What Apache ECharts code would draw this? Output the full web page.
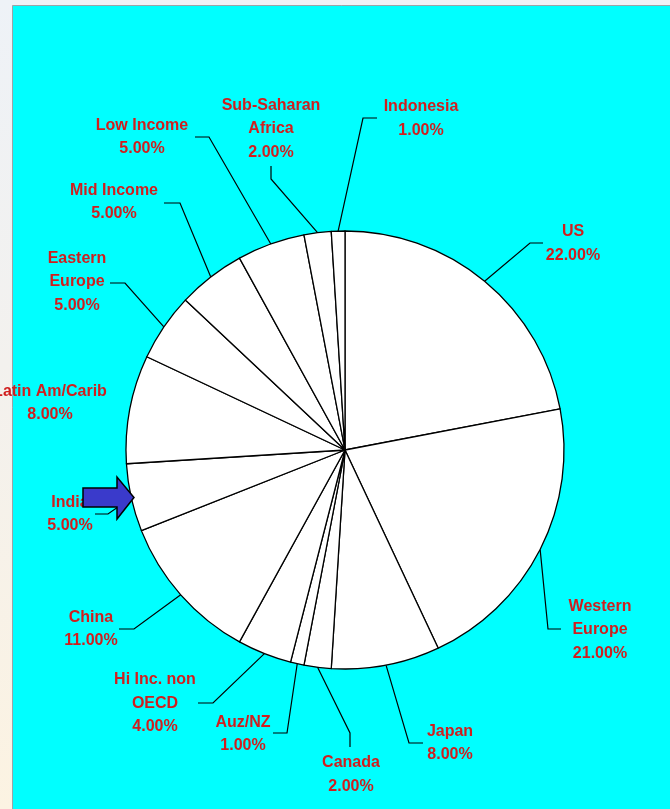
<!DOCTYPE html>
<html>
<head>
<meta charset="utf-8">
<script src="https://cdn.jsdelivr.net/npm/echarts@6/dist/echarts.min.js"></script>
<style>
  html, body { margin: 0; padding: 0; }
  body {
    width: 670px; height: 809px; overflow: hidden;
    background: linear-gradient(180deg, #eef2f7 0%, #f3f1ee 45%, #fcf3e2 100%);
  }
  #chart { position: absolute; left: 0; top: 0; width: 670px; height: 809px; }
</style>
</head>
<body>
<div id="chart"></div>
<script>
// Slice names, clockwise from 12 o'clock
const regions = [
  'US', 'Western\nEurope', 'Japan', 'Canada', 'Auz/NZ', 'Hi Inc. non\nOECD',
  'China', 'India', 'Latin Am/Carib', 'Eastern\nEurope', 'Mid Income',
  'Low Income', 'Sub-Saharan\nAfrica', 'Indonesia'
];
// Share of each region (percent)
const shares = [22, 21, 8, 2, 1, 4, 11, 5, 8, 5, 5, 5, 2, 1];

// Label placement: [centre x, centre y, elbow x, elbow y, end x, end y]; null = no leader line
const labelPlacement = [
  [573, 243.5, 530, 243, 543, 243],
  [600, 630, 548, 629, 561, 629],
  [450, 743, 409, 743, 423, 743],
  [351, 774.5, 350, 733, 350, 747],
  [243, 734, 287, 733, 273, 733],
  [155, 703.5, 213, 703, 198, 703],
  [91, 629, 134, 629, 119, 629],
  [70, 514, 108, 514, 95, 514],
  [50, 403, null],
  [77, 282, 125, 283, 110, 283],
  [114, 202, 180, 203, 164, 203],
  [142, 137, 209, 137, 195, 137],
  [271, 129, 271, 179, 271, 166],
  [421, 118.5, 363, 118, 377, 118]
];

const chart = echarts.init(document.getElementById('chart'), null, { renderer: 'canvas' });

const pieData = regions.map((name, i) => ({
  name: name,
  value: shares[i],
  labelLine: { show: labelPlacement[i][2] !== null }
}));

chart.setOption({
  backgroundColor: 'transparent',
  animation: false,
  graphic: [
    {
      type: 'rect', z: -100, silent: true,
      shape: { x: 12.5, y: 5.5, width: 670, height: 820 },
      style: { fill: '#00ffff', stroke: '#9aa4a8', lineWidth: 1 }
    },
    {
      // pointer arrow beside the India slice
      type: 'polygon', z: 100, silent: true,
      shape: { points: [[83, 488], [117, 488], [117, 477], [134, 497.5], [117, 519], [117, 507], [83, 507]] },
      style: { fill: '#3a3acb', stroke: '#000000', lineWidth: 1.5 }
    }
  ],
  series: [{
    type: 'pie',
    center: [345, 450],
    radius: 219,
    startAngle: 90,
    clockwise: true,
    avoidLabelOverlap: false,
    data: pieData,
    itemStyle: { color: '#ffffff', borderColor: '#000000', borderWidth: 1.3 },
    emphasis: { disabled: true },
    label: {
      show: true,
      position: 'outside',
      formatter: p => p.name + '\n' + p.value.toFixed(2) + '%',
      color: '#d01e1e',
      fontFamily: '"Liberation Sans", Arial, sans-serif',
      fontWeight: 'bold',
      fontSize: 16,
      lineHeight: 23.5,
      align: 'center'
    },
    labelLine: {
      show: true,
      length: 20,
      length2: 15,
      lineStyle: { color: '#000000', width: 1.2 }
    },
    labelLayout: function (params) {
      const pl = labelPlacement[params.dataIndex];
      const out = { x: pl[0], y: pl[1], align: 'center', verticalAlign: 'middle' };
      if (pl[2] !== null && params.labelLinePoints) {
        out.labelLinePoints = [
          params.labelLinePoints[0],
          [pl[2], pl[3]],
          [pl[4], pl[5]]
        ];
      }
      return out;
    }
  }]
});
</script>
</body>
</html>
